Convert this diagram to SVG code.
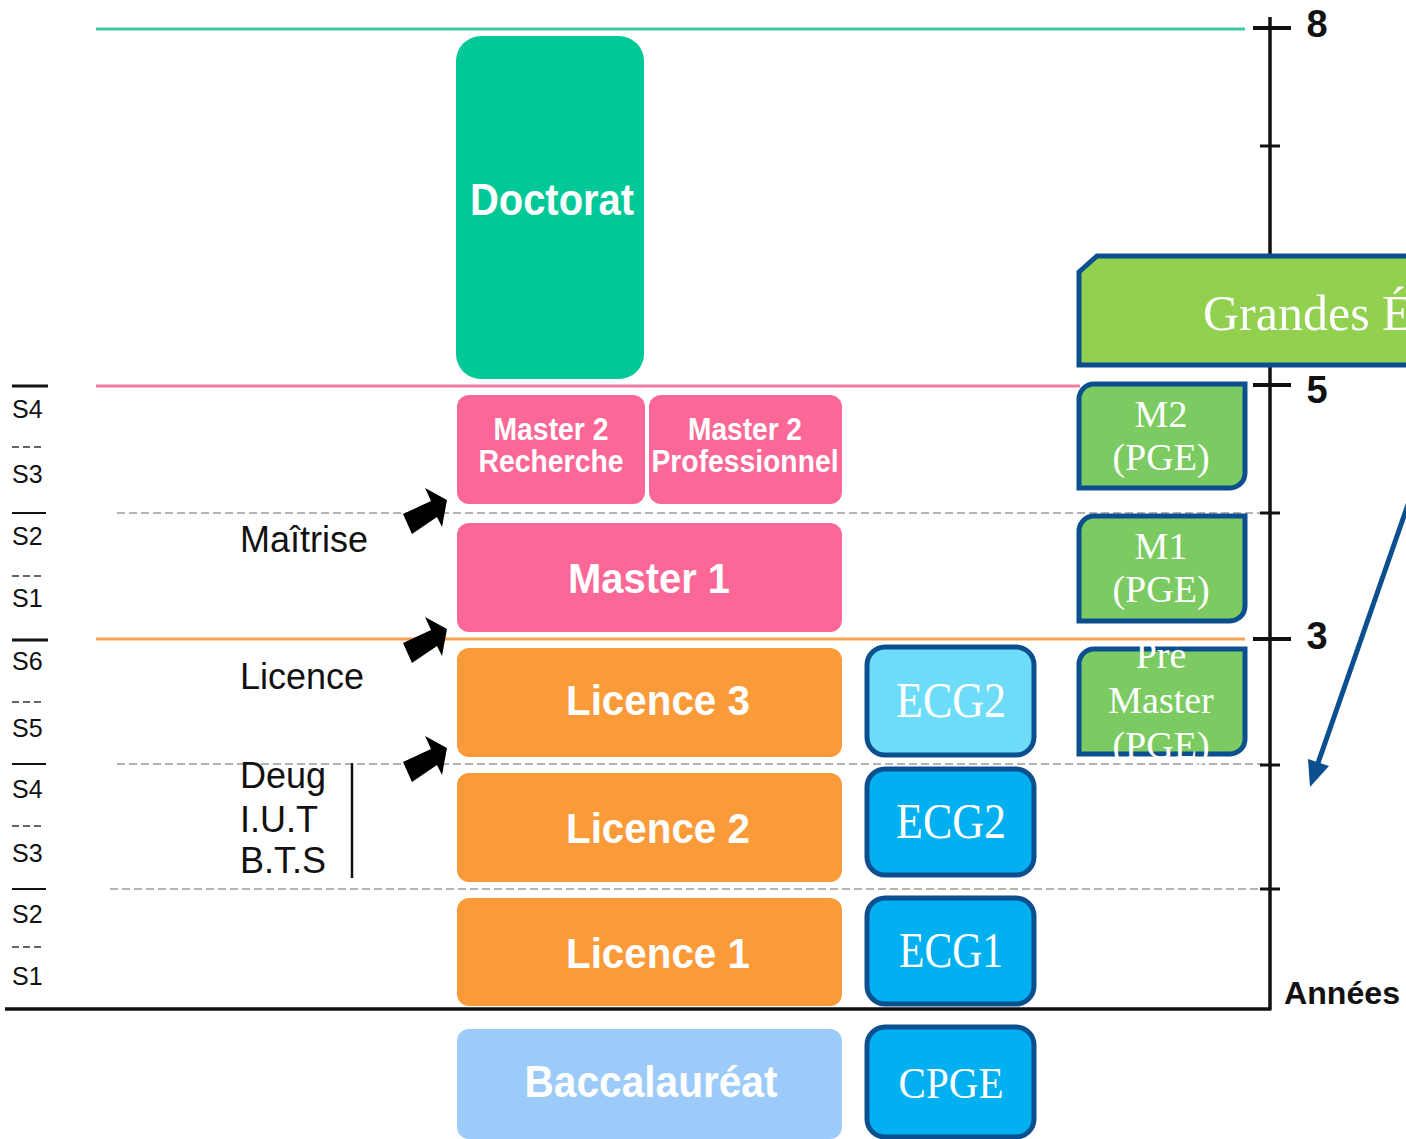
<svg xmlns="http://www.w3.org/2000/svg" width="1406" height="1139" viewBox="0 0 1406 1139">
<style>
.bx{font-family:"Liberation Sans",Arial,sans-serif;font-weight:bold;fill:#fff;text-anchor:middle}
.sv{font-family:"Liberation Serif","Times New Roman",serif;fill:#fff;text-anchor:middle}
.svs{font-family:"Liberation Serif","Times New Roman",serif;fill:#fff;text-anchor:start}
.lb{font-family:"Liberation Sans",Arial,sans-serif;fill:#111}
.sm{font-family:"Liberation Sans",Arial,sans-serif;fill:#111;font-size:25px}
.num{font-family:"Liberation Sans",Arial,sans-serif;font-weight:bold;fill:#111}
.dash{stroke:#9a9a9a;stroke-width:1.6;stroke-dasharray:8 4;fill:none}
.sd{stroke:#333;stroke-width:1.5;stroke-dasharray:7 4}
.pink{fill:#fb6797}
.orange{fill:#fb9a38}
.ecg{stroke:#0b4f8f;stroke-width:5}
.grn{fill:#7ccb62;stroke:#0b4f8f;stroke-width:5}
.blk{fill:#000}
</style>
<rect width="1406" height="1139" fill="#fff"/>
<g id="grid">
<line x1="96" y1="29" x2="1245" y2="29" stroke="#3ec9a6" stroke-width="3"/>
<line x1="96" y1="386" x2="1080" y2="386" stroke="#f07aa2" stroke-width="3"/>
<line x1="96" y1="639" x2="1245" y2="639" stroke="#f5a352" stroke-width="3"/>
<line class="dash" x1="117" y1="513" x2="1262" y2="513"/>
<line class="dash" x1="117" y1="764" x2="1262" y2="764"/>
<line class="dash" x1="110" y1="889" x2="1262" y2="889"/>
<line x1="5" y1="1009" x2="1271" y2="1009" stroke="#111" stroke-width="3.5"/>
<line x1="1270" y1="17" x2="1270" y2="1010" stroke="#111" stroke-width="3.5"/>
<g stroke="#111">
<line x1="1253" y1="28" x2="1291" y2="28" stroke-width="4"/>
<line x1="1260" y1="146" x2="1280" y2="146" stroke-width="3"/>
<line x1="1253" y1="385" x2="1291" y2="385" stroke-width="4"/>
<line x1="1260" y1="513" x2="1280" y2="513" stroke-width="3"/>
<line x1="1253" y1="639" x2="1291" y2="639" stroke-width="4"/>
<line x1="1260" y1="765" x2="1280" y2="765" stroke-width="3"/>
<line x1="1260" y1="889" x2="1280" y2="889" stroke-width="3"/>
</g>
<text class="num" x="1317" y="37" font-size="38" text-anchor="middle">8</text>
<text class="num" x="1317" y="403" font-size="38" text-anchor="middle">5</text>
<text class="num" x="1317" y="649" font-size="38" text-anchor="middle">3</text>
<text class="num" x="1284" y="1004" font-size="32" textLength="116" lengthAdjust="spacingAndGlyphs">Années</text>
</g>
<g id="semesters">
<line x1="12" y1="386" x2="48" y2="386" stroke="#111" stroke-width="3"/>
<text class="sm" x="12" y="418">S4</text>
<line class="sd" x1="12" y1="447" x2="43" y2="447"/>
<text class="sm" x="12" y="483">S3</text>
<line x1="12" y1="513" x2="46" y2="513" stroke="#111" stroke-width="2"/>
<text class="sm" x="12" y="545">S2</text>
<line class="sd" x1="12" y1="576" x2="43" y2="576"/>
<text class="sm" x="12" y="607">S1</text>
<line x1="12" y1="640" x2="48" y2="640" stroke="#111" stroke-width="3"/>
<text class="sm" x="12" y="670">S6</text>
<line class="sd" x1="12" y1="702" x2="43" y2="702"/>
<text class="sm" x="12" y="737">S5</text>
<line x1="12" y1="764" x2="46" y2="764" stroke="#111" stroke-width="2"/>
<text class="sm" x="12" y="798">S4</text>
<line class="sd" x1="12" y1="826" x2="43" y2="826"/>
<text class="sm" x="12" y="862">S3</text>
<line x1="12" y1="889" x2="46" y2="889" stroke="#111" stroke-width="2"/>
<text class="sm" x="12" y="923">S2</text>
<line class="sd" x1="12" y1="947" x2="43" y2="947"/>
<text class="sm" x="12" y="985">S1</text>
</g>
<g id="labels">
<text class="lb" x="240" y="552" font-size="36">Maîtrise</text>
<text class="lb" x="240" y="689" font-size="36">Licence</text>
<text class="lb" x="240" y="788" font-size="36">Deug</text>
<text class="lb" x="240" y="832" font-size="36">I.U.T</text>
<text class="lb" x="240" y="873" font-size="36">B.T.S</text>
<line x1="352" y1="763" x2="352" y2="878" stroke="#111" stroke-width="2.5"/>
</g>
<g id="connectors">
<path class="blk" d="M403,514 L431,501 L425,488 L447,500 L442,527 L437,517 L412,534 Z"/>
<path class="blk" d="M403,643 L431,630 L425,617 L447,629 L442,656 L437,646 L412,663 Z"/>
<path class="blk" d="M403,762 L431,749 L425,736 L447,748 L442,775 L437,765 L412,782 Z"/>
<line x1="1412" y1="493" x2="1317" y2="766" stroke="#0b4f8f" stroke-width="5"/>
<polygon points="1310,787 1329,766 1308,759" fill="#0b4f8f"/>
</g>
<g id="doctorat">
<rect x="456" y="36" width="188" height="343" rx="25" fill="#00c896"/>
<text class="bx" x="552" y="215" font-size="45" textLength="164" lengthAdjust="spacingAndGlyphs">Doctorat</text>
</g>
<g id="master2-recherche">
<rect class="pink" x="457" y="395" width="188" height="109" rx="12"/>
<text class="bx" x="551" y="440" font-size="31" textLength="115" lengthAdjust="spacingAndGlyphs">Master 2</text>
<text class="bx" x="551" y="472" font-size="31" textLength="145" lengthAdjust="spacingAndGlyphs">Recherche</text>
</g>
<g id="master2-pro">
<rect class="pink" x="649" y="395" width="193" height="109" rx="12"/>
<text class="bx" x="745" y="440" font-size="31" textLength="114" lengthAdjust="spacingAndGlyphs">Master 2</text>
<text class="bx" x="745" y="472" font-size="31" textLength="187" lengthAdjust="spacingAndGlyphs">Professionnel</text>
</g>
<g id="master1">
<rect class="pink" x="457" y="523" width="385" height="109" rx="12"/>
<text class="bx" x="649" y="593" font-size="42" textLength="162" lengthAdjust="spacingAndGlyphs">Master 1</text>
</g>
<g id="licence3">
<rect class="orange" x="457" y="648" width="385" height="109" rx="12"/>
<text class="bx" x="658" y="715" font-size="42" textLength="184" lengthAdjust="spacingAndGlyphs">Licence 3</text>
</g>
<g id="licence2">
<rect class="orange" x="457" y="773" width="385" height="109" rx="12"/>
<text class="bx" x="658" y="843" font-size="42" textLength="184" lengthAdjust="spacingAndGlyphs">Licence 2</text>
</g>
<g id="licence1">
<rect class="orange" x="457" y="898" width="385" height="108" rx="12"/>
<text class="bx" x="658" y="968" font-size="42" textLength="184" lengthAdjust="spacingAndGlyphs">Licence 1</text>
</g>
<g id="baccalaureat">
<rect x="457" y="1029" width="385" height="110" rx="12" fill="#9ccbfa"/>
<text class="bx" x="651" y="1097" font-size="44" textLength="253" lengthAdjust="spacingAndGlyphs">Baccalauréat</text>
</g>
<g id="ecg2-light">
<rect class="ecg" x="867" y="647" width="167" height="108" rx="18" fill="#6ddcf9"/>
<text class="sv" x="951" y="717" font-size="50" textLength="110" lengthAdjust="spacingAndGlyphs">ECG2</text>
</g>
<g id="ecg2">
<rect class="ecg" x="867" y="769" width="167" height="106" rx="18" fill="#00b0f0"/>
<text class="sv" x="951" y="838" font-size="50" textLength="110" lengthAdjust="spacingAndGlyphs">ECG2</text>
</g>
<g id="ecg1">
<rect class="ecg" x="867" y="898" width="167" height="106" rx="18" fill="#00b0f0"/>
<text class="sv" x="951" y="967" font-size="50" textLength="104" lengthAdjust="spacingAndGlyphs">ECG1</text>
</g>
<g id="cpge">
<rect class="ecg" x="867" y="1027" width="167" height="110" rx="18" fill="#00b0f0"/>
<text class="sv" x="951" y="1098" font-size="44" textLength="105" lengthAdjust="spacingAndGlyphs">CPGE</text>
</g>
<g id="grandes-ecoles">
<path d="M1079,272 L1097,256 L1412,256 L1412,365 L1079,365 Z" fill="#92d050" stroke="#0b4f8f" stroke-width="5"/>
<text class="svs" x="1203" y="330" font-size="50">Grandes É</text>
</g>
<g id="m2-pge">
<path class="grn" d="M1094,384 L1245,384 L1245,473 A15,15 0 0 1 1230,488 L1079,488 L1079,399 A15,15 0 0 1 1094,384 Z"/>
<text class="sv" x="1161" y="427" font-size="38">M2</text>
<text class="sv" x="1161" y="470" font-size="38">(PGE)</text>
</g>
<g id="m1-pge">
<path class="grn" d="M1094,516 L1245,516 L1245,606 A15,15 0 0 1 1230,621 L1079,621 L1079,531 A15,15 0 0 1 1094,516 Z"/>
<text class="sv" x="1161" y="559" font-size="38">M1</text>
<text class="sv" x="1161" y="602" font-size="38">(PGE)</text>
</g>
<g id="pre-master">
<path class="grn" d="M1094,649 L1245,649 L1245,739 A15,15 0 0 1 1230,754 L1079,754 L1079,664 A15,15 0 0 1 1094,649 Z"/>
<text class="sv" x="1161" y="668" font-size="38">Pré</text>
<text class="sv" x="1161" y="713" font-size="38">Master</text>
<text class="sv" x="1161" y="758" font-size="38">(PGE)</text>
</g>
</svg>
